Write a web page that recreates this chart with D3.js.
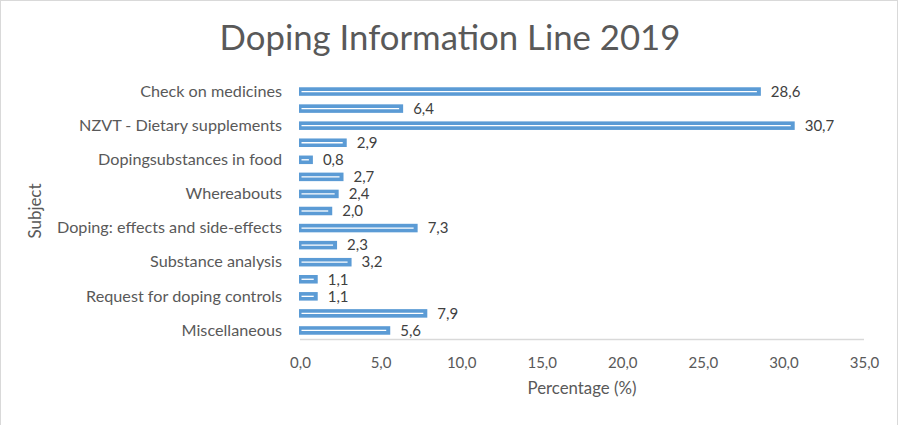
<!DOCTYPE html>
<html><head><meta charset="utf-8">
<script src="https://cdn.jsdelivr.net/npm/d3@7"></script>
<style>body{margin:0;background:#fff}svg{display:block}text{font-family:Lato,"Open Sans",sans-serif}</style>
</head><body><svg id="c" width="903" height="425"></svg>
<script>
const title = "Doping Information Line 2019";
const categories = ["Check on medicines","","NZVT - Dietary supplements","","Dopingsubstances in food","","Whereabouts","","Doping: effects and side-effects","","Substance analysis","","Request for doping controls","","Miscellaneous"];
const values = [28.6,6.4,30.7,2.9,0.8,2.7,2.4,2.0,7.3,2.3,3.2,1.1,1.1,7.9,5.6];
const xTicks = [0,5,10,15,20,25,30,35];
const xTitle = "Percentage (%)";
const yTitle = "Subject";

const svg = d3.select("#c");
const W=903,H=425;
const m={left:300,right:W-864,top:83,bottom:H-339};
svg.append("rect").attr("x",0.5).attr("y",0.5).attr("width",897).attr("height",440).attr("fill","#fff").attr("stroke","#d9d9d9");

const fmt = v => d3.format(".1f")(v).replace(".",",");
const x = d3.scaleLinear().domain([0,35]).range([m.left,W-m.right]);
const y = d3.scaleBand().domain(d3.range(values.length)).range([m.top,H-m.bottom]).paddingInner(0.5).paddingOuter(0.25);

function fit(sel, target){ const w=sel.node().getComputedTextLength(); const fs=parseFloat(sel.attr("font-size")); sel.attr("font-size", fs*target/w); }

const t = svg.append("text").attr("x",450).attr("y",50).attr("text-anchor","middle").attr("font-size",32).attr("fill","#595959").text(title);
fit(t,461);

const g = svg.append("g");
g.selectAll("rect.bar").data(values).join("rect").attr("class","bar")
  .attr("x",x(0)-1).attr("y",(d,i)=>y(i)).attr("width",d=>x(d)-x(0)+1).attr("height",y.bandwidth()).attr("fill","#5b9bd5");
g.selectAll("line.hl").data(values).join("line").attr("class","hl")
  .attr("x1",x(0)+1.5).attr("x2",d=>Math.max(x(0)+2,x(d)-4)).attr("y1",(d,i)=>y(i)+y.bandwidth()/2).attr("y2",(d,i)=>y(i)+y.bandwidth()/2)
  .attr("stroke","#fff").attr("stroke-width",1.3);

g.selectAll("text.vl").data(values).join("text").attr("class","vl")
  .attr("x",d=>x(d)+10).attr("y",(d,i)=>y(i)+y.bandwidth()/2).attr("dy","0.35em").attr("font-size",15).attr("fill","#404040").text(fmt);

svg.append("line").attr("x1",x(0)).attr("x2",x(35)).attr("y1",339.5).attr("y2",339.5).attr("stroke","#d9d9d9").attr("stroke-width",1.5);
const xa = svg.append("g").attr("transform","translate(0,339)").call(d3.axisBottom(x).tickValues(xTicks).tickFormat(fmt).tickSize(0).tickPadding(18));
xa.select(".domain").remove();
xa.selectAll("text").attr("font-size",15).attr("fill","#595959").style("font-family","Lato,'Open Sans',sans-serif");

const ya = svg.append("g").attr("transform",`translate(${x(0)},0)`).call(d3.axisLeft(y).tickFormat(i=>categories[i]).tickSize(0).tickPadding(18));
ya.select(".domain").remove();
ya.selectAll(".tick").filter(i=>categories[i]==="").remove();
ya.selectAll("text").attr("font-size",15).attr("fill","#595959").style("font-family","Lato,'Open Sans',sans-serif");
const ref = ya.selectAll("text").filter(i=>i===2);
const ratio = 203/ref.node().getComputedTextLength();
ya.selectAll("text").attr("font-size",15*ratio);

const xt = svg.append("text").attr("x",(x(0)+x(35))/2).attr("y",394).attr("text-anchor","middle").attr("font-size",15).attr("fill","#595959").text(xTitle);
fit(xt,109);
const yt = svg.append("text").attr("transform","translate(41,211) rotate(-90)").attr("text-anchor","middle").attr("font-size",15).attr("fill","#595959").text(yTitle);
fit(yt,55);
</script></body></html>
